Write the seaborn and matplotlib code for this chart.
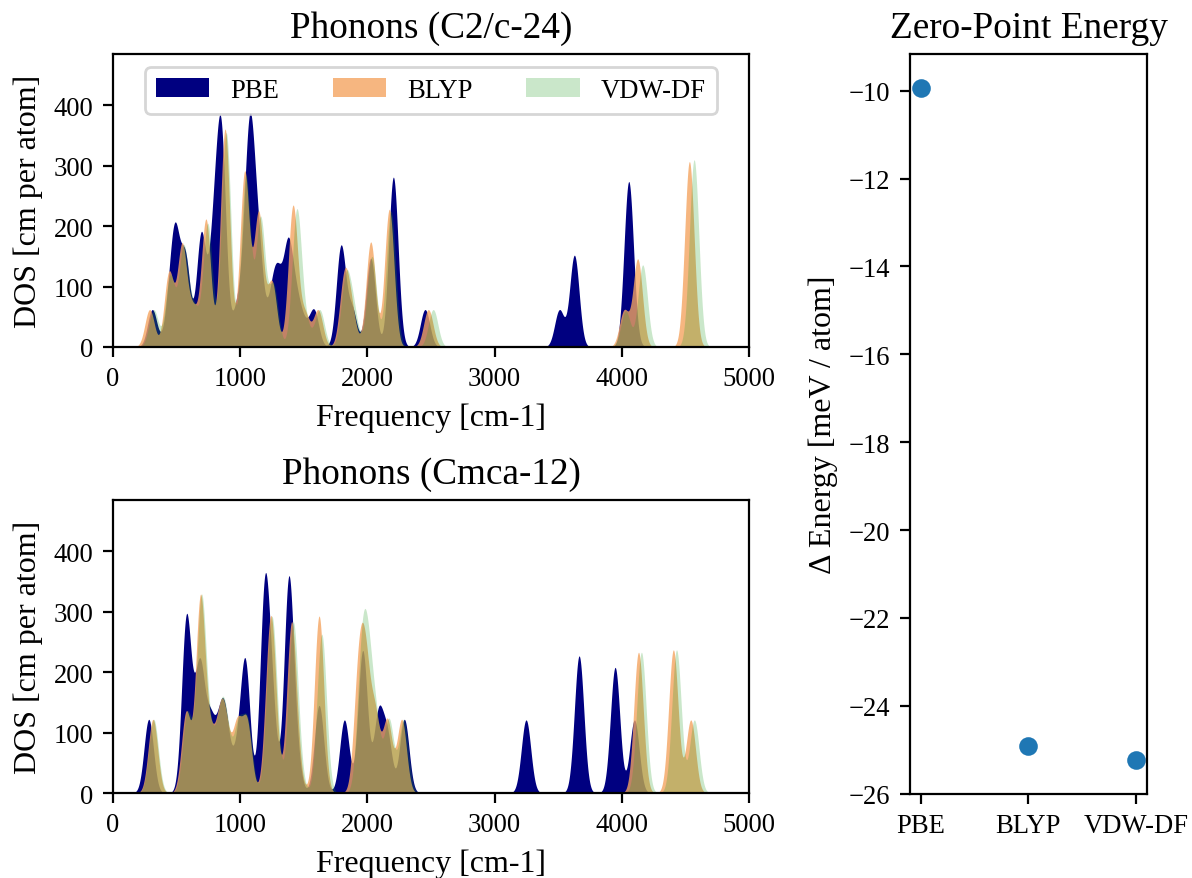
import numpy as np
import pandas as pd
import matplotlib
matplotlib.use("Agg")
import matplotlib.pyplot as plt
import seaborn as sns

# DOS values at peaks, shoulders and dips [cm-1]
functionals = ["PBE", "BLYP", "VDW-DF"]

c2c_pbe_freq = [309, 440, 490, 570, 629, 693, 790, 851, 969, 1035, 1080, 1145, 1219, 1250, 1297, 1376, 1440, 1500, 1580, 1792, 1880, 2026, 2204, 2244, 2453, 3509, 3627, 4054, 4100]
c2c_pbe_dos = [62, 126, 207, 160, 77, 192, 260, 375, 79, 260, 388, 215, 85, 115, 140, 182, 110, 55, 63, 169, 70, 147, 285, 150, 62, 62, 152, 274, 130]
c2c_blyp_freq = [288, 440, 543, 629, 731, 881, 969, 1035, 1145, 1219, 1250, 1415, 1509, 1612, 1819, 1876, 2026, 2172, 2479, 4018, 4125, 4531]
c2c_blyp_dos = [62, 126, 173, 75, 212, 361, 79, 292, 228, 85, 124, 235, 63, 62, 129, 85, 174, 228, 62, 62, 146, 307]
c2c_vdw_freq = [320, 450, 555, 640, 745, 890, 980, 1045, 1160, 1230, 1262, 1445, 1520, 1625, 1830, 1890, 2035, 2185, 2517, 4030, 4164, 4568]
c2c_vdw_dos = [62, 120, 170, 75, 205, 355, 79, 285, 220, 85, 120, 229, 62, 62, 125, 85, 150, 225, 62, 60, 136, 310]

cmca_pbe_freq = [281, 576, 640, 687, 765, 839, 886, 975, 1040, 1192, 1250, 1381, 1440, 1620, 1819, 1963, 2086, 2157, 2290, 3247, 3664, 3947, 4099]
cmca_pbe_dos = [122, 296, 200, 223, 142, 149, 142, 110, 223, 359, 220, 359, 150, 145, 121, 236, 142, 110, 122, 121, 227, 208, 121]
cmca_blyp_freq = [314, 575, 687, 765, 839, 886, 975, 1053, 1226, 1257, 1402, 1450, 1620, 1929, 1985, 2060, 2157, 2270, 4131, 4405, 4542]
cmca_blyp_dos = [122, 136, 329, 130, 149, 140, 126, 126, 275, 272, 283, 150, 293, 245, 262, 150, 124, 122, 233, 237, 121]
cmca_vdw_freq = [320, 585, 695, 770, 845, 892, 985, 1060, 1235, 1265, 1415, 1462, 1641, 1955, 2008, 2070, 2170, 2285, 4154, 4430, 4570]
cmca_vdw_dos = [122, 136, 329, 130, 152, 140, 126, 126, 275, 272, 283, 150, 263, 274, 278, 150, 124, 122, 233, 237, 121]

# Zero-point energy differences [meV / atom]
zpe = [-9.93, -24.92, -25.24]

sns.set_style("ticks", {"axes.edgecolor": "black", "xtick.color": "black",
                        "ytick.color": "black", "text.color": "black",
                        "axes.labelcolor": "black"})
plt.rcParams["font.family"] = ["Liberation Serif", "DejaVu Serif"]
plt.rcParams["font.size"] = 9.6

sigma = 37.0
freq = np.linspace(0, 5000, 2501)


def broaden(centres, values):
    # gaussian smearing; amplitudes fitted so the curve passes the read values
    c = np.asarray(centres, float)
    t = np.asarray(values, float)
    A = np.exp(-0.5 * ((c[:, None] - c[None, :]) / sigma) ** 2)
    step = 1.0 / np.linalg.norm(A, 2) ** 2
    h = t.copy()
    for _ in range(40000):
        h = np.clip(h + step * A.T @ (t - A @ h), 0, None)
    return (h[:, None] * np.exp(-0.5 * ((freq[None, :] - c[:, None]) / sigma) ** 2)).sum(0)


colors = {"PBE": "navy", "BLYP": "sandybrown", "VDW-DF": "tab:green"}
alphas = {"PBE": 1.0, "BLYP": 0.8, "VDW-DF": 0.25}

panels = [
    ("Phonons (C2/c-24)", [(c2c_pbe_freq, c2c_pbe_dos), (c2c_blyp_freq, c2c_blyp_dos), (c2c_vdw_freq, c2c_vdw_dos)]),
    ("Phonons (Cmca-12)", [(cmca_pbe_freq, cmca_pbe_dos), (cmca_blyp_freq, cmca_blyp_dos), (cmca_vdw_freq, cmca_vdw_dos)]),
]

fig = plt.figure(figsize=(5.96, 4.395), dpi=200)
ax_top = fig.add_axes([0.0948, 0.6041, 0.5336, 0.3333])
ax_bot = fig.add_axes([0.0948, 0.0967, 0.5336, 0.3333])
ax_zpe = fig.add_axes([0.7634, 0.0956, 0.1988, 0.8418])

for ax, (title, series) in zip([ax_top, ax_bot], panels):
    for name, (fc, fv) in zip(functionals, series):
        ax.fill_between(freq, broaden(fc, fv), color=colors[name],
                        alpha=alphas[name], label=name, linewidth=0)
    ax.set_xlim(0, 5000)
    ax.set_ylim(0, 485)
    ax.set_title(title, fontsize=13.4)
    ax.set_xlabel("Frequency [cm-1]", fontsize=11.5)
    ax.set_ylabel("DOS [cm per atom]", fontsize=11.5)

ax_top.legend(ncol=3, loc="upper center", fontsize=9.6)

df = pd.DataFrame({"functional": functionals, "zpe": zpe})
sns.scatterplot(data=df, x="functional", y="zpe", ax=ax_zpe, s=45,
                color="tab:blue", linewidth=0)
ax_zpe.set_title("Zero-Point Energy", fontsize=13.4)
ax_zpe.set_xlabel("")
ax_zpe.set_ylabel("Δ Energy [meV / atom]", fontsize=11.5)

fig.savefig("out.png", dpi=200)
